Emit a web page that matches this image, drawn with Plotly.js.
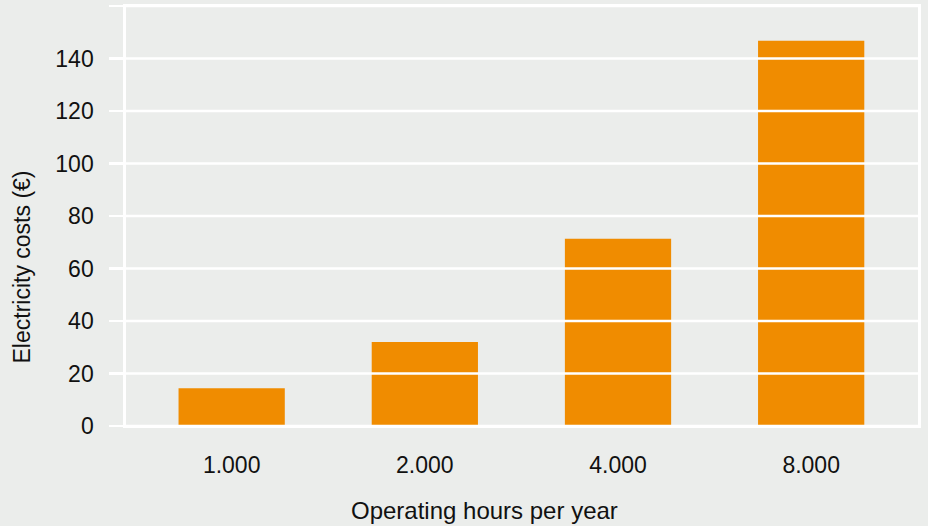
<!DOCTYPE html>
<html>
<head>
<meta charset="utf-8">
<script src="https://cdn.plot.ly/plotly-3.0.1.min.js"></script>
<style>html,body{margin:0;padding:0;background:#ebedeb;}#chart{width:928px;height:526px;}</style>
</head>
<body>
<div id="chart"></div>
<script>
const categories = ["1.000", "2.000", "4.000", "8.000"];
const costs = [14.4, 32.0, 71.3, 146.8];
const yTicks = [0, 20, 40, 60, 80, 100, 120, 140, 160];
const yTickLabels = ["0", "20", "40", "60", "80", "100", "120", "140", ""];
const xTitle = "Operating hours per year";
const yTitle = "Electricity costs (€)";

const bg = "#ebedeb";
const font = {family: "Liberation Sans, Arial, Helvetica, sans-serif", size: 23, color: "#111"};
const titleFont = {family: "Liberation Sans, Arial, Helvetica, sans-serif", size: 24, color: "#111"};

const data = [{
  type: "bar",
  x: categories,
  y: costs,
  marker: {color: "#f08c00", line: {width: 0}},
  width: 0.55,
  hoverinfo: "skip"
}];

// white gridlines drawn on top of the bars, built from the tick values
const gridShapes = yTicks.map(v => ({
  type: "line", xref: "paper", yref: "y",
  x0: 0, x1: 1, y0: v, y1: v,
  line: {color: "#ffffff", width: 2.4},
  layer: "above"
}));

const layout = {
  width: 928, height: 526,
  margin: {l: 126, r: 10, t: 6, b: 100},
  paper_bgcolor: bg, plot_bgcolor: bg,
  font: font,
  showlegend: false,
  xaxis: {
    type: "category",
    range: [-0.547, 3.553],
    showgrid: false, zeroline: false,
    showline: true, linecolor: "#ffffff", linewidth: 2.4, mirror: true,
    ticks: "",
    ticklabelstandoff: 17,
    tickfont: font,
    layer: "above traces",
    fixedrange: true
  },
  yaxis: {
    range: [0, 160],
    tickvals: yTicks, ticktext: yTickLabels,
    showgrid: false,
    zeroline: false,
    showline: true, linecolor: "#ffffff", linewidth: 2.7, mirror: true,
    ticks: "outside", ticklen: 14, tickwidth: 2.4, tickcolor: "#ffffff",
    ticklabelstandoff: 11,
    tickfont: font,
    layer: "above traces",
    fixedrange: true
  },
  shapes: gridShapes,
  annotations: [
    {text: xTitle, xref: "paper", yref: "paper", x: 0.453, y: -0.20, xanchor: "center", yanchor: "middle", showarrow: false, font: titleFont},
    {text: yTitle, xref: "paper", yref: "paper", x: -0.131, y: 0.378, xanchor: "center", yanchor: "middle", textangle: -90, showarrow: false, font: font}
  ]
};

Plotly.newPlot("chart", data, layout, {displayModeBar: false, staticPlot: true});
</script>
</body>
</html>
